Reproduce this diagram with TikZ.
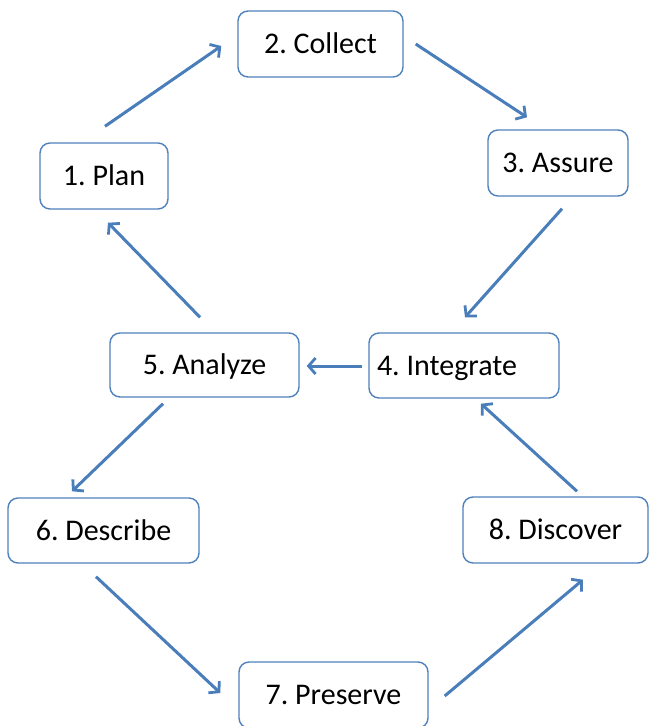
\documentclass[tikz,border=0pt]{standalone}
\usepackage{fontspec}
\setmainfont{Carlito}
\usetikzlibrary{arrows.meta}
\definecolor{boxline}{RGB}{79,129,189}
\definecolor{arrowblue}{RGB}{74,126,187}
\begin{document}
\frenchspacing
\begin{tikzpicture}[x=1pt,y=-1pt,
  stepbox/.style={draw=boxline, line width=1.4pt, rounded corners=10pt, fill=white,
    inner sep=0pt, minimum height=66pt, text height=19pt, text depth=0pt,
    font=\fontsize{30}{36}\selectfont\frenchspacing, text=black},
  flow/.style={draw=arrowblue, line width=3pt,
    -{Straight Barb[length=7pt,width=16pt,line width=2.8pt]}}]
\useasboundingbox (0,0) rectangle (649,726);
\node[stepbox, minimum width=128pt] (p) at (104,176) {1. Plan};
\node[stepbox, minimum width=165pt] (c) at (320.5,44) {2. Collect};
\node[stepbox, minimum width=140pt] (a) at (558,163) {3. Assure};
\node[stepbox, minimum width=190pt, minimum height=65pt] (i) at (464,365.5) {\makebox[174pt][l]{4. Integrate}};
\node[stepbox, minimum width=189pt, minimum height=64pt] (z) at (204.5,365) {5. Analyze};
\node[stepbox, minimum width=191pt, minimum height=65pt] (d) at (103.5,530.5) {6. Describe};
\node[stepbox, minimum width=189pt] (r) at (333.5,695) {7. Preserve};
\node[stepbox, minimum width=185pt] (v) at (555.5,530) {8. Discover};
\draw[flow] ([shift={(1,-16)}]p.north) -- ([shift={(-16,2)}]c.west);
\draw[flow] ([shift={(12,0)}]c.east) -- ([shift={(-31,-12)}]a.north);
\draw[flow] ([shift={(4,12)}]a.south) -- ([shift={(1,-15)}]i.north);
\draw[flow] ([shift={(-6,0.5)}]i.west) -- ([shift={(7,1)}]z.east);
\draw[flow] ([shift={(-4.5,-15)}]z.north) -- ([shift={(4,13)}]p.south);
\draw[flow] ([shift={(-41.5,6)}]z.south) -- ([shift={(-31.5,-6)}]d.north);
\draw[flow] ([shift={(-7.5,13)}]d.south) -- ([shift={(-18,-2)}]r.west);
\draw[flow] ([shift={(16,1)}]r.east) -- ([shift={(27.5,16)}]v.south);
\draw[flow] ([shift={(21.5,-5)}]v.north) -- ([shift={(17,5)}]i.south);
\end{tikzpicture}
\end{document}
